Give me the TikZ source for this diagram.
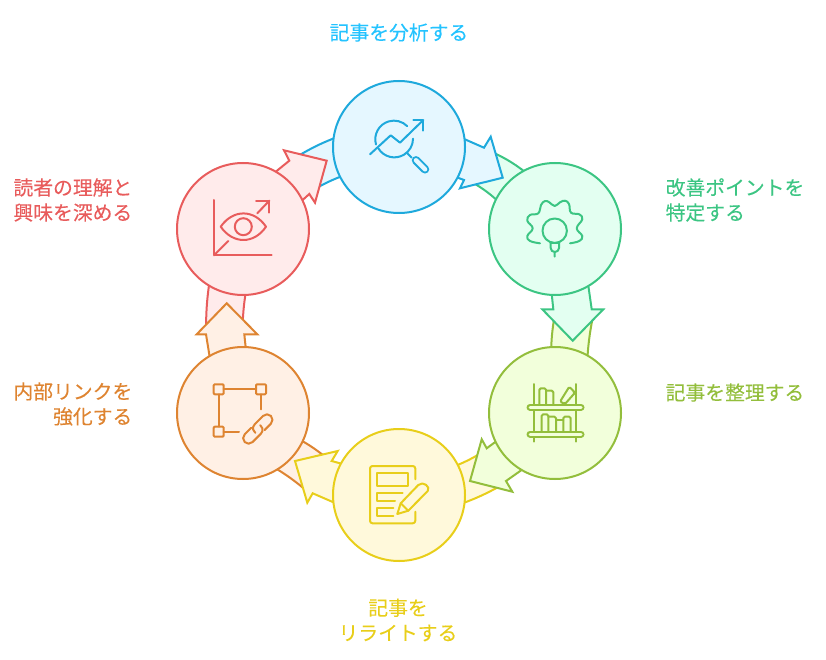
\documentclass[tikz,border=0pt]{standalone}
\usepackage{fontspec}
\setmainfont{Noto Sans CJK JP}[FakeBold=0.1]
\usepackage{xcolor}
\definecolor{blueLine}{HTML}{1EA9DC}
\definecolor{blueFill}{HTML}{E5F7FF}
\definecolor{blueText}{HTML}{24C3FF}
\definecolor{greenLine}{HTML}{3CC583}
\definecolor{greenFill}{HTML}{E3FFF1}
\definecolor{limeLine}{HTML}{93BE3C}
\definecolor{limeFill}{HTML}{F2FFDB}
\definecolor{yellowLine}{HTML}{E8CE1A}
\definecolor{yellowFill}{HTML}{FFF9DB}
\definecolor{orangeLine}{HTML}{DE8431}
\definecolor{orangeFill}{HTML}{FFF0E5}
\definecolor{redLine}{HTML}{E85C5C}
\definecolor{redFill}{HTML}{FFEBEB}
\usetikzlibrary{calc}
\tikzset{stage/.style={circle,draw=#1Line,fill=#1Fill,line width=2pt,minimum size=132pt,inner sep=0pt,outer sep=0pt},
shape/.style={draw=#1Line,fill=#1Fill,line width=2pt},
icon/.style={draw=#1Line,line width=2pt,line cap=round,line join=round},
tube/.style={icon=#1,double=#1Fill,double distance=3pt,line width=2pt},
caption/.style={text=#1,inner sep=0pt,font=\fontsize{19.8}{25}\selectfont}}

\begin{document}
\begin{tikzpicture}[x=1pt,y=-1pt]

\useasboundingbox (0,0) rectangle (826,660);

%Bands behind the arrow heads
 \draw[shape=green] (530,176) to[bend right=7] (492,152) -- (470,181) to[bend left=7] (502,205) -- cycle;
 \draw[shape=lime] (551,355) to[bend left=4] (554.5,316) -- (593,316) to[bend right=4] (587,365) -- cycle;
 \draw[shape=yellow] (450,468) to[bend right=5] (482,452.5) -- (503,484.4) to[bend left=5] (455,506) -- cycle;
 \draw[shape=orange] (295,437) to[bend left=5] (326,457.4) -- (308,492) to[bend right=5] (270,465) -- cycle;
 \draw[shape=red] (210,278) to[bend right=4] (206,330) -- (242.5,328) to[bend left=4] (247,285) -- cycle;
 \draw[shape=blue] (340,136) to[bend right=5] (298,156) -- (312,190.7) to[bend left=5] (345,175) -- cycle;

%Arrows
 \draw[shape=red] (268,178)--(289.3,160.7)--(284,150.3)--(326.7,160.7)--(315,202.7)--(309.3,194)--(295,207)--cycle;
 \draw[shape=blue] (455,135)--(484,147.7)--(490.7,136.7)--(502.7,177.7)--(460,188.3)--(464,180)--(450,174.9)--cycle;
 \draw[shape=green] (551,287)--(553.3,309.3)--(542.3,309.3)--(572.7,340.7)--(603.3,309.3)--(591.7,309.3)--(587.5,280)--cycle;
 \draw[shape=lime] (502,437)--(486.7,448.3)--(481.7,439.3)--(470,481)--(512.3,491.7)--(506,481)--(528,465.5)--cycle;
 \draw[shape=yellow] (348,465.5)--(331.7,461)--(337.7,451)--(295,461)--(307.3,502.7)--(312.7,493.3)--(342,506)--cycle;
 \draw[shape=orange] (210.5,362)--(206,334.3)--(196.7,334.3)--(226.7,303.3)--(257.3,334.3)--(244.3,334.3)--(246.5,355)--cycle;

%Circles
 \node[stage=blue] (Analyze) at (399,147) {};
 \node[stage=green] (Improve) at (555,229) {};
 \node[stage=lime] (Organize) at (555,413) {};
 \node[stage=yellow] (Rewrite) at (399,495) {};
 \node[stage=orange] (Links) at (243,413) {};
 \node[stage=red] (Readers) at (243,229) {};

%Magnifier and trend line
 \draw[icon=blue] (376,144.5) arc (164:315:18.7);
 \draw[icon=blue] (378.3,148.3) arc (149:0:18.7);
 \draw[icon=blue] (370,154.3)--(390.7,135.3)--(400,142.7)--(423.3,120);
 \draw[icon=blue] (413.3,120)--(423.3,120)--(423.3,130.7);
 \draw[icon=blue] (407.3,153.3)--(411.7,157.7);
 \draw[tube=blue,double distance=4.5pt] (416,160.3)--(425,169.3);

%Gear with a bulb
 \draw[icon=green] plot[smooth,tension=0.7] coordinates {(540,243.3) (530,241) (527.3,236) (532.7,228.3) (527.3,220.7) (530,215) (538.3,213.3) (541,205) (545,201) (549.3,202.3) (554.7,206) (560,202.3) (565,200.7) (569,204) (571,212.7) (579.3,214.3) (582.3,219.3) (576.7,228.3) (582.3,236) (579.3,241) (570,243.3)};
 \draw[icon=green] (554.7,230.7) circle (12.2);
 \draw[icon=green] (550.7,242.7)--(550.7,248) arc (180:90:4) -- (554.7,252) -- (554.7,256.7);
 \draw[icon=green] (559,242.7)--(559,248) arc (0:90:4);
 \draw[icon=green] (550.7,243)--(559,243);

%Bookshelf
 \draw[icon=lime] (534,384)--(534,441.7);
 \draw[icon=lime] (576,384)--(576,441.7);
 \draw[tube=lime] (530,407.3)--(581,407.3);
 \draw[tube=lime] (530,434)--(581,434);
 \draw[icon=lime,rounded corners=1.5] (539.3,404)--(539.3,388.3)--(546,388.3)--(546,404);
 \draw[icon=lime,rounded corners=1.5] (546,390.7)--(553.3,390.7)--(553.3,404);
 \draw[icon=lime,rounded corners=1.5] (560,401.7)--(569.3,386.7)--(575,392.7)--(565,404)--cycle;
 \draw[icon=lime,rounded corners=1.5] (541.7,431)--(541.7,414.3)--(548.3,414.3)--(548.3,431);
 \draw[icon=lime,rounded corners=1.5] (548.3,416.7)--(556,416.7)--(556,431);
 \draw[icon=lime] (556,420)--(563.3,420);
 \draw[icon=lime,rounded corners=1.5] (563.3,431)--(563.3,416.7)--(570.7,416.7)--(570.7,431);

%Document and pencil
 \draw[icon=yellow,rounded corners=2.5] (415.3,479.3)--(415.3,466)--(370,466)--(370,523.3)--(415.3,523.3)--(415.3,511.7);
 \draw[icon=yellow] (377.3,473.3) rectangle (408.3,486);
 \draw[icon=yellow] (402.7,493.3)--(377.3,493.3)--(377.3,501)--(395,501);
 \draw[icon=yellow] (393.3,508.3)--(377.3,508.3)--(377.3,516)--(393.3,516);
 \draw[icon=yellow] (397.3,514)--(400.7,503.3)--(418.3,485) .. controls (423,480.5) and (431,487) .. (427.7,491) -- (408.3,510.7)--cycle;
 \draw[icon=yellow] (400.7,503.3)--(408.3,510.7);

%Squares and chain
 \draw[icon=orange,rounded corners=1] (213.7,384.3) rectangle (223.7,394.3);
 \draw[icon=orange,rounded corners=1] (256,384.3) rectangle (266,394.3);
 \draw[icon=orange,rounded corners=1] (213.7,426.7) rectangle (223.7,436.7);
 \draw[icon=orange] (223.7,389.3)--(256,389.3);
 \draw[icon=orange] (218.7,394.3)--(218.7,426.7);
 \draw[icon=orange] (261,394.3)--(261,409.3);
 \draw[icon=orange] (223.7,431.7)--(239,431.7);
 \foreach \turn in {45,225}
 {\begin{scope}[shift={(257.8,429)},rotate=\turn]
   \draw[icon=orange] (4,5.5)--(13,5.5) arc (90:-90:5.5)--(1,-5.5) arc (270:170:5.5);
  \end{scope}}

%Eye over a chart
 \draw[icon=red] (214,200)--(214,255.3)--(271.7,255.3);
 \draw[icon=red] (214,255.3)--(228.3,241);
 \draw[icon=red] (256,200.7)--(269.3,200.7)--(269.3,212.7);
 \draw[icon=red] (269.3,200.7)--(257.3,213.3);
 \draw[icon=red] (220.7,226.7) .. controls (233,209) and (254,209) .. (266,226.7) .. controls (254,244.4) and (233,244.4) .. cycle;
 \draw[icon=red] (243.3,226.7) circle (8.5);

%Labels
 \node[caption=blueText] (AnalyzeLabel) at (399,32.5) {記事を分析する};
 \node[caption=greenLine,anchor=west,align=left] (ImproveLabel) at (665.5,200) {改善ポイントを\\特定する};
 \node[caption=limeLine,anchor=west] (OrganizeLabel) at (665.5,392.5) {記事を整理する};
 \node[caption=yellowLine,align=center] (RewriteLabel) at (398,620) {記事を\\リライトする};
 \node[caption=orangeLine,anchor=east,align=right] (LinksLabel) at (132.5,404) {内部リンクを\\強化する};
 \node[caption=redLine,anchor=east,align=right] (ReadersLabel) at (132.5,200) {読者の理解と\\興味を深める};

\end{tikzpicture}
\end{document}
